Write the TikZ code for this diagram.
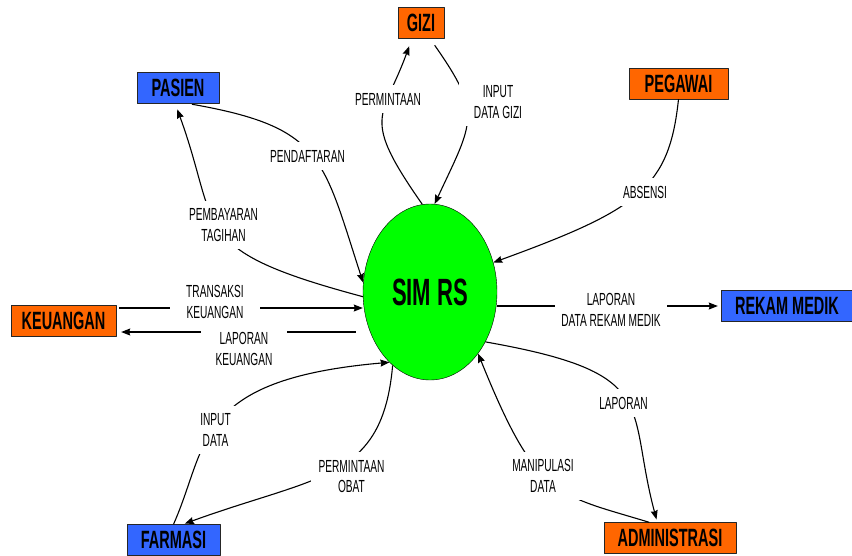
\documentclass[tikz,border=0pt]{standalone}
\usepackage{fontspec}
\setmainfont{Liberation Sans}[FakeStretch=0.58]
\usetikzlibrary{arrows.meta,shapes.geometric,calc}
\definecolor{orng}{RGB}{255,102,0}
\definecolor{blu}{RGB}{51,102,255}
\definecolor{simgreen}{RGB}{0,255,0}

\begin{document}
\begin{tikzpicture}[x=1pt,y=1pt,line join=round,
  ent/.style={draw=black!85, fill=#1, minimum height=31pt, inner sep=0pt, font=\fontsize{25}{28}\selectfont\bfseries},
  lbl/.style={fill=white, align=center, inner xsep=8pt, inner ysep=8pt, font=\fontsize{17.5}{20.5}\selectfont},
  flow/.style={-{Stealth[length=9pt,width=7pt,inset=1pt]}, line width=1.1pt}]
\useasboundingbox (0,0) rectangle (852,-555);
% proses dan entitas
\node[ellipse, draw=black, fill=simgreen, minimum width=134pt, minimum height=176pt, inner sep=0pt,
      font=\fontsize{38}{40}\selectfont\bfseries] (sim) at (430,-292) {SIM RS};
\node[ent=orng, minimum width=46pt]  (gizi)     at (421,-23)    {GIZI};
\node[ent=blu,  minimum width=82pt]  (pasien)   at (178,-88)    {PASIEN};
\node[ent=orng, minimum width=99pt]  (pegawai)  at (678.5,-83.5){PEGAWAI};
\node[ent=orng, minimum width=105pt] (keuangan) at (63.5,-321)  {KEUANGAN};
\node[ent=blu,  minimum width=132pt] (rekam)    at (787,-306)   {REKAM MEDIK};
\node[ent=blu,  minimum width=93pt]  (farmasi)  at (173.5,-540) {FARMASI};
\node[ent=orng, minimum width=132pt] (admin)    at (670,-538)   {ADMINISTRASI};
% aliran data
\draw[flow, shorten >=8pt] (sim.95) .. controls +(125:109) and +(-110:86) .. (gizi.-120);   % permintaan
\draw[flow, shorten <=8pt] (gizi.-60) .. controls +(-55:92) and +(65:92) .. (sim.87);      % input data gizi
\draw[flow, shorten <=3pt] (pasien.-55) .. controls +(-10:136) and +(108:132) .. (sim.172); % pendaftaran
\draw[flow, shorten >=6pt] (sim.184) .. controls +(165:183) and +(-70:135) .. (pasien.-100);% pembayaran
\draw[flow, shorten <=3pt] ($(keuangan.east)+(0,13)$) -- ($(keuangan.east -| sim.west)+(0,13)$);
\draw[flow, shorten >=5pt] ($(keuangan.east -| sim.west)+(-7,-11)$) -- ($(keuangan.east)+(0,-11)$);
\draw[flow, shorten >=3pt] (sim.east |- rekam.west) -- (rekam.west);
\draw[flow] (pegawai.south) .. controls +(-96:89) and +(20:155) .. (sim.25);              % absensi
\draw[flow, shorten >=3pt] (sim.-42) .. controls +(-10:180) and +(105:122) .. (admin.129);  % laporan
\draw[flow] (admin.143) .. controls +(163:98) and +(-68:157) .. (sim.-52);                 % manipulasi
\draw[flow] (farmasi.north) .. controls +(66:87) and +(-175:198) .. (sim.240);             % input data
\draw[flow, shorten >=2pt] (sim.243) .. controls +(-95:116) and +(20:144) .. (farmasi.59); % permintaan obat
% label
\node[lbl] (lperm) at (388,-99) {PERMINTAAN};
\node[lbl, inner xsep=15pt] (lgizi) at (498,-102) {INPUT\\DATA GIZI};
\node[lbl] (ldaftar) at (307.5,-156) {PENDAFTARAN};
\node[lbl] (lbayar) at (223.5,-225) {PEMBAYARAN\\TAGIHAN};
\node[lbl] (labsen) at (645,-192) {ABSENSI};
\node[lbl, inner xsep=16pt] (ltrans) at (215,-302) {TRANSAKSI\\KEUANGAN};
\node[lbl, inner xsep=15pt] (llapkeu) at (244,-349) {LAPORAN\\KEUANGAN};
\node[lbl, inner xsep=6pt] (lrekam) at (611,-310) {LAPORAN\\DATA REKAM MEDIK};
\node[lbl] (llap) at (623.5,-403) {LAPORAN};
\node[lbl] (lmanip) at (543,-476) {MANIPULASI\\DATA};
\node[lbl] (linput) at (215.5,-430) {INPUT\\DATA};
\node[lbl] (lobat) at (351.5,-476.5) {PERMINTAAN\\OBAT};
\end{tikzpicture}
\end{document}
